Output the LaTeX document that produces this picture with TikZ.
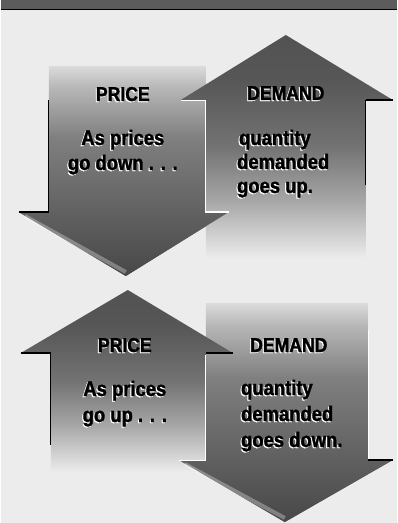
\documentclass[tikz,border=0pt]{standalone}
\usepackage{fontspec}
\newfontfamily\condfont[FakeStretch=0.88, BoldFeatures={FakeBold=1.6}]{Liberation Sans}
\usetikzlibrary{positioning}
\definecolor{paper}{RGB}{236,236,236}
\definecolor{band}{RGB}{92,92,92}
\pgfdeclareverticalshading{upfade}{100bp}{color(0bp)=(paper); color(25bp)=(paper); color(38bp)=(black!35); color(50bp)=(black!55); color(65bp)=(black!66); color(100bp)=(black!72)}
\pgfdeclareverticalshading{downfade}{100bp}{color(0bp)=(black!72); color(25bp)=(black!72); color(40bp)=(black!62); color(58bp)=(black!50); color(70bp)=(black!28); color(75bp)=(black!14); color(100bp)=(black!14)}
\tikzset{
  titletxt/.style={font=\condfont\bfseries\fontsize{15}{17}\selectfont, inner sep=0pt, anchor=base},
  bodytxt/.style={font=\condfont\bfseries\fontsize{15.7}{18}\selectfont, inner sep=0pt, anchor=base},
  darkedge/.style={black, line width=0.8pt},
  lightedge/.style={white, line width=0.8pt}
}
\newcommand{\embossed}[4]{
\node[#2, white, xshift=-0.8pt, yshift=-0.8pt] (#1-sh) at (#3) {#4};
\node[#2] (#1) at (#3) {#4};
}

\begin{document}
\begin{tikzpicture}[x=0.75pt, y=-0.75pt]
    % background and top band
    \fill[paper] (0,0) rectangle (396,523);
    \fill[band] (0,0) rectangle (396,9);
    \draw[black, line width=1.2pt] (0,9.5) -- (396,9.5);

    % upper pair: price down, demand up
    \shade[shading=downfade] (48,66) -- (205,66) -- (205,212) -- (228,212) -- (125,276) -- (18,212) -- (48,212) -- cycle;
    \shade[shading=upfade] (285,35) -- (392,100) -- (365,100) -- (365,258) -- (205,258) -- (205,100) -- (180,100) -- cycle;
    \begin{scope}
        \clip (18,212) -- (228,212) -- (125,276) -- cycle;
        \shade[shading=downfade] (48,66) -- (205,66) -- (205,212) -- (228,212) -- (125,276) -- (18,212) -- (48,212) -- cycle;
    \end{scope}
    \draw[white, opacity=0.3, line width=3pt] (24,216) -- (125,272);
    \draw[darkedge] (48,100) -- (48,212) -- (18,212);
    \draw[lightedge] (205,100) -- (205,212) -- (228,212);
    \draw[lightedge] (180,100.5) -- (205,100.5);
    \draw[darkedge] (365,100) -- (392,100);
    \draw[darkedge] (365,100) -- (365,185);

    % lower pair: price up, demand down
    \shade[shading=downfade] (205,303) -- (367,303) -- (367,460) -- (392,460) -- (284,522) -- (178,460) -- (205,460) -- cycle;
    \shade[shading=upfade] (127,290) -- (232,353) -- (205,353) -- (205,472) -- (50,472) -- (50,353) -- (20,353) -- cycle;
    \begin{scope}
        \clip (178,460) -- (392,460) -- (284,522) -- cycle;
        \shade[shading=downfade] (205,303) -- (367,303) -- (367,460) -- (392,460) -- (284,522) -- (178,460) -- (205,460) -- cycle;
    \end{scope}
    \draw[white, opacity=0.3, line width=3pt] (184,464) -- (284,518);
    \draw[darkedge] (20,353) -- (50,353) -- (50,445);
    \draw[darkedge] (205,353) -- (232,353);
    \draw[lightedge] (205,355) -- (205,460);
    \draw[lightedge] (178,460.5) -- (205,460.5);
    \draw[darkedge] (367,460) -- (392,460);
    \draw[lightedge] (368,330) -- (368,459);

    % labels
    \embossed{priceA}{titletxt}{122,101}{PRICE}
    \embossed{priceAa}{bodytxt}{122,145}{As prices}
    \embossed{priceAb}{bodytxt}{122,170}{go down . . .}
    \embossed{demandA}{titletxt}{285,100}{DEMAND}
    \embossed{demandAa}{bodytxt, anchor=base west}{238,145}{quantity}
    \embossed{demandAb}{bodytxt, anchor=base west}{236,169}{demanded}
    \embossed{demandAc}{bodytxt, anchor=base west}{236,193}{goes up.}

    \embossed{priceB}{titletxt}{124,352}{PRICE}
    \embossed{priceBa}{bodytxt}{124,396}{As prices}
    \embossed{priceBb}{bodytxt}{124,422}{go up . . .}
    \embossed{demandB}{titletxt}{288,352}{DEMAND}
    \embossed{demandBa}{bodytxt, anchor=base west}{240,395}{quantity}
    \embossed{demandBb}{bodytxt, anchor=base west}{240,421}{demanded}
    \embossed{demandBc}{bodytxt, anchor=base west}{240,447}{goes down.}
\end{tikzpicture}
\end{document}
